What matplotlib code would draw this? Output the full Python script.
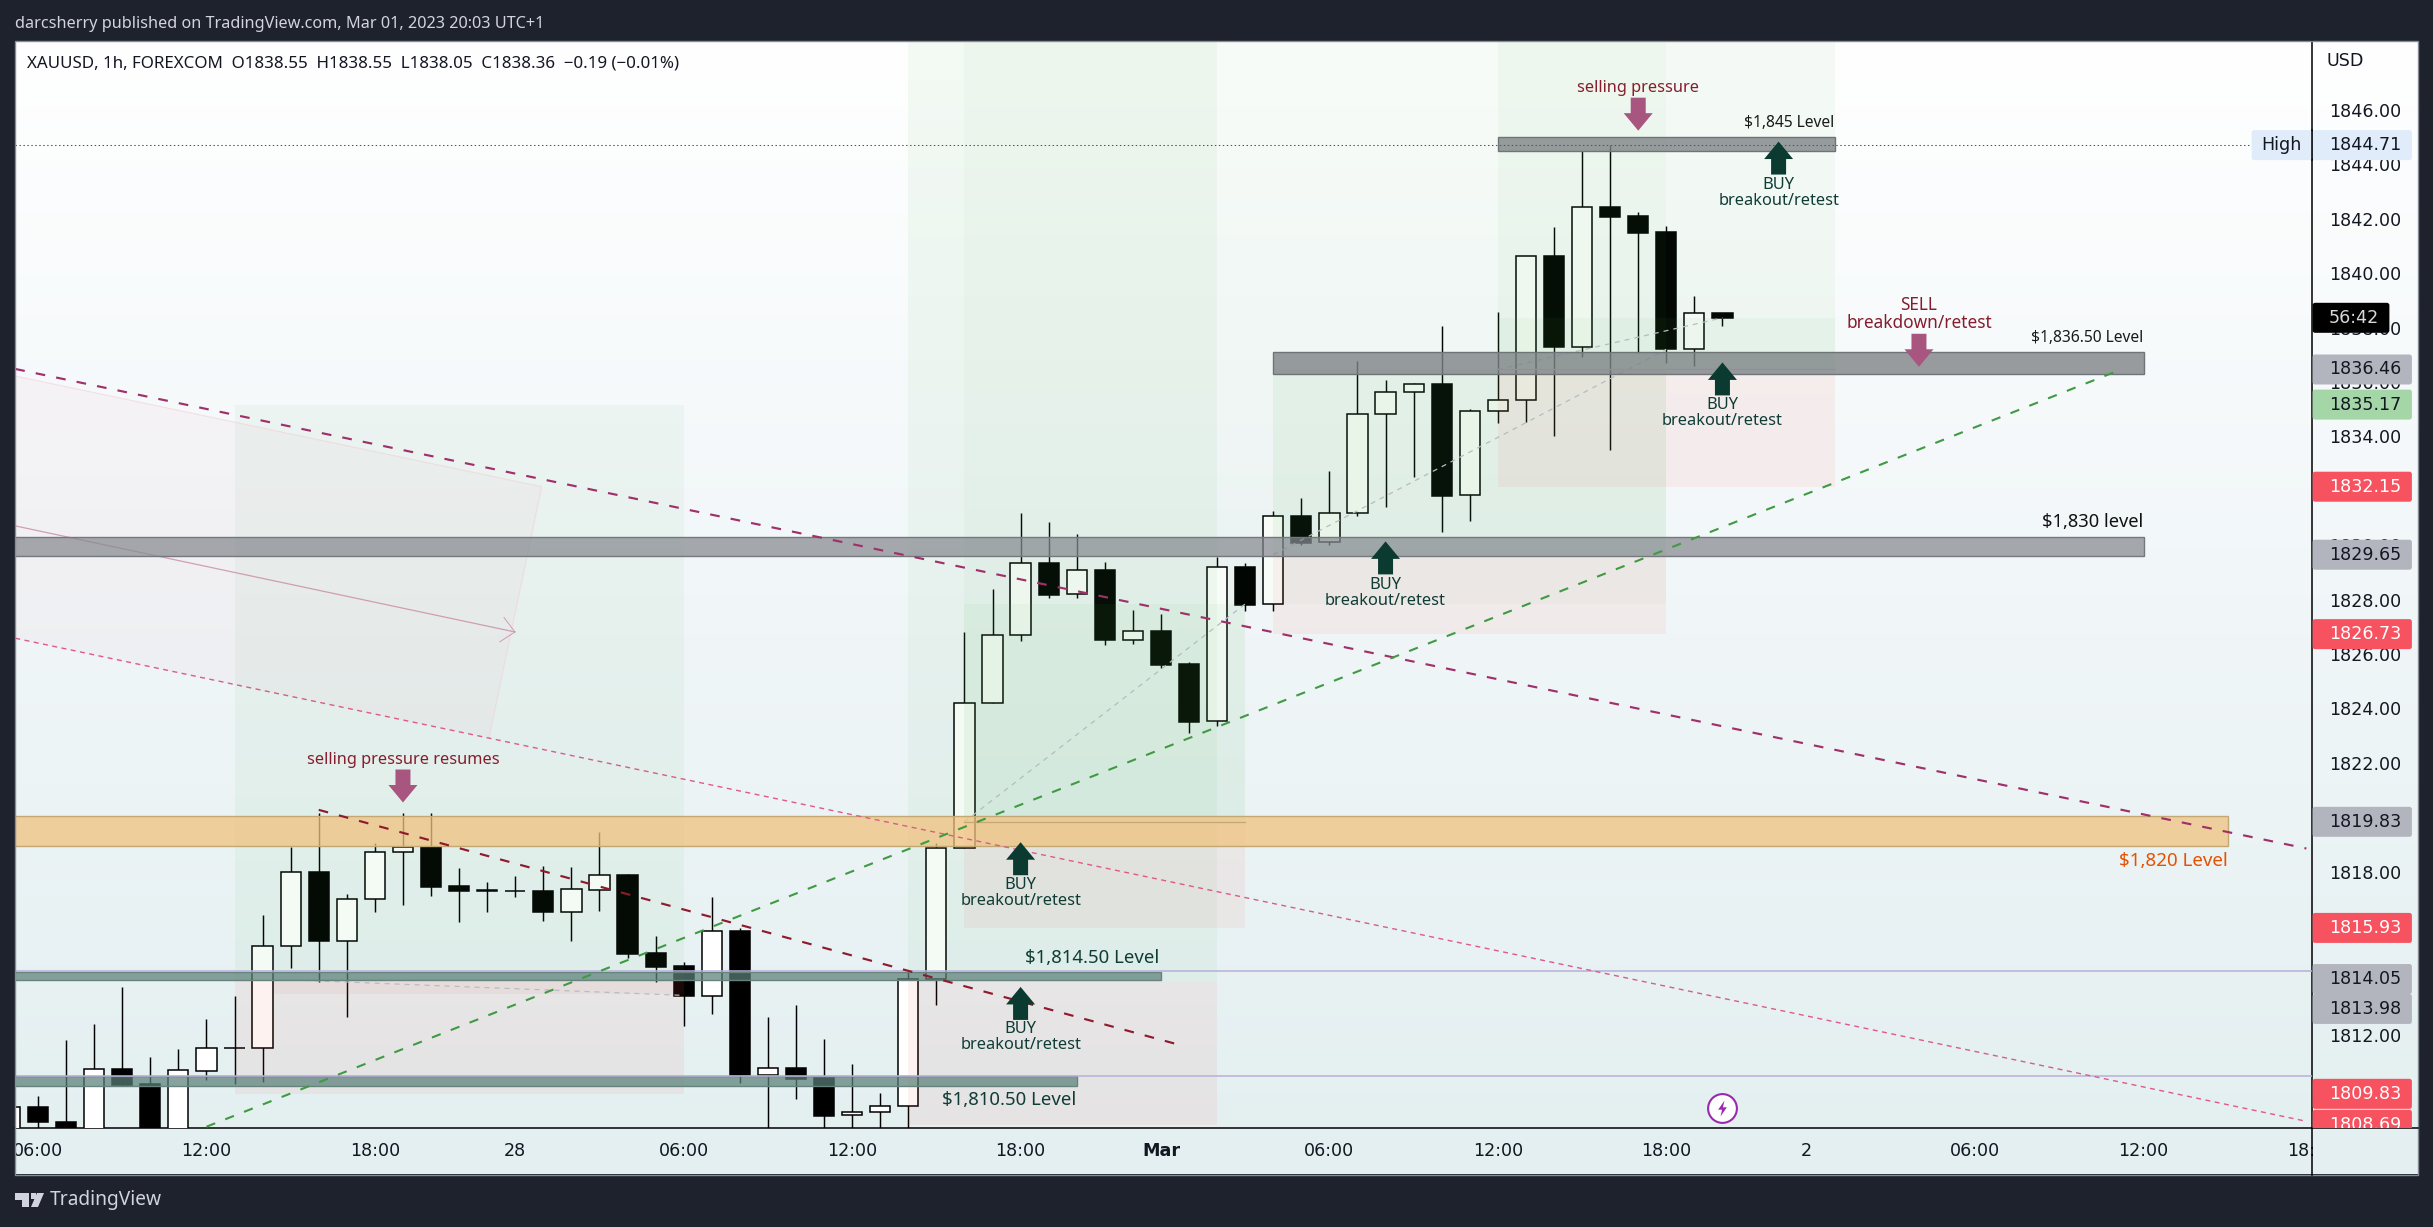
import numpy as np
import matplotlib
matplotlib.use("Agg")
import matplotlib.pyplot as plt
from matplotlib.patches import Rectangle, Polygon, FancyBboxPatch
from matplotlib.colors import LinearSegmentedColormap
from matplotlib.lines import Line2D
from matplotlib.transforms import Bbox, IdentityTransform

# ---------- data ----------
bar_index = list(range(-1, 61))
opens = [1808.2,1809.33,1808.80,1808.0,1810.74,1810.19,1808.0,1810.68,1811.51,1811.51,1815.25,1817.97,1815.46,1816.98,
         1818.71,1818.91,1817.48,1817.33,1817.28,1817.29,1816.52,1817.34,1817.87,1815.0,1814.54,1813.43,1815.82,1810.51,
         1810.78,1810.41,1809.04,1809.15,1809.37,1814.04,1818.86,1824.19,1826.69,1829.33,1828.19,1829.07,1826.53,1826.83,
         1825.63,1823.52,1829.19,1827.83,1831.07,1830.10,1831.17,1834.81,1835.62,1835.91,1831.83,1834.92,1835.33,1840.62,
         1837.30,1842.42,1842.09,1841.50,1837.22,1838.55]
highs = [1809.4,1809.75,1811.80,1812.40,1813.74,1811.18,1811.48,1812.58,1813.42,1816.40,1818.91,1820.16,1817.18,1819.06,
         1820.16,1820.16,1818.13,1817.60,1817.83,1818.21,1818.17,1819.45,1817.90,1815.64,1814.66,1817.06,1815.93,1812.67,
         1813.10,1811.85,1810.93,1809.86,1814.31,1819.04,1826.81,1828.39,1831.18,1830.85,1830.41,1829.38,1827.62,1827.47,
         1825.72,1829.55,1829.33,1831.25,1831.73,1832.73,1836.77,1836.07,1835.97,1838.06,1835.01,1838.57,1840.62,1841.70,
         1844.51,1844.71,1842.24,1841.72,1839.16,1838.55]
lows = [1807.9,1808.3,1807.8,1807.8,1810.12,1807.7,1807.8,1810.35,1810.18,1810.27,1814.46,1813.95,1812.67,1816.52,
        1816.78,1817.10,1816.13,1816.52,1817.08,1816.19,1815.46,1816.56,1814.83,1813.95,1812.32,1812.77,1810.22,1808.0,
        1809.65,1808.0,1808.0,1808.0,1808.0,1813.10,1818.86,1824.19,1826.49,1828.07,1828.07,1826.34,1826.38,1825.50,
        1823.11,1823.36,1827.59,1827.59,1830.02,1829.99,1831.09,1831.42,1832.52,1830.50,1830.90,1834.50,1834.54,1834.03,
        1836.93,1833.50,1837.08,1836.71,1836.60,1838.05]
closes = [1809.33,1808.80,1808.0,1810.73,1810.16,1807.9,1810.69,1811.51,1811.51,1815.25,1817.97,1815.46,1816.98,1818.71,
          1818.90,1817.45,1817.30,1817.27,1817.28,1816.52,1817.35,1817.86,1814.98,1814.5,1813.42,1815.81,1810.51,1810.77,
          1810.39,1809.03,1809.15,1809.37,1814.04,1818.86,1824.19,1826.69,1829.33,1828.18,1829.07,1826.53,1826.83,1825.61,
          1823.51,1829.19,1827.81,1831.06,1830.09,1831.17,1834.81,1835.62,1835.91,1831.82,1834.92,1835.33,1840.62,1837.30,
          1842.42,1842.08,1841.49,1837.22,1838.53,1838.36]

# price labels the reference shows at least partly (the rest sit fully under price tags)
price_ticks = [1812, 1818, 1822, 1824, 1826, 1828, 1830, 1834, 1836, 1838, 1840, 1842, 1844, 1846]
time_tick_bars = [0, 6, 12, 17, 23, 29, 35, 40, 46, 52, 58, 63, 69, 75, 81]
time_tick_labels = ["06:00", "12:00", "18:00", "28", "06:00", "12:00", "18:00", "Mar",
                    "06:00", "12:00", "18:00", "2", "06:00", "12:00", "18:00"]

tag_prices = [1844.71, 1836.46, 1835.17, 1832.15, 1829.65, 1826.73, 1819.83, 1815.93, 1814.05, 1813.98, 1809.83, 1808.69]
tag_kinds = ["high", "gray", "green", "red", "gray", "red", "gray", "red", "gray", "gray", "red", "red"]
last_close = 1838.36
countdown = "56:42"

# ---------- geometry ----------
W, H = 2433, 1227
DPI = 100
PX_L, PX_R, PX_T, PX_B = 15.3, 2312.0, 40.7, 1128.0
PANEL_R, PANEL_B = 2417.7, 1174.5
BAR_PX, UNIT_PX = 28.08, 27.2
XLIM = ((PX_L - 38) / BAR_PX, (PX_R - 38) / BAR_PX)
YLIM = (1846 - (PX_B - 110) / UNIT_PX, 1846 + (110 - PX_T) / UNIT_PX)
TEXT = "Noto Sans"
AXF = "DejaVu Sans"
DARK = "#1e222d"
TXT = "#131722"


def rect_fig(l, t, r, b):
    return [l / W, 1 - b / H, (r - l) / W, (b - t) / H]


fig = plt.figure(figsize=(W / DPI, H / DPI), dpi=DPI, facecolor=DARK)

bg = fig.add_axes(rect_fig(PX_L, PX_T, PANEL_R, PANEL_B), zorder=0)
cmap = LinearSegmentedColormap.from_list("bg", [(0, "#ffffff"), (0.45, "#f2f7f9"), (1, "#e3eff0")])
bg.imshow(np.linspace(0, 1, 256)[:, None], aspect="auto", cmap=cmap, vmin=0, vmax=1)
bg.axis("off")

ax = fig.add_axes(rect_fig(PX_L, PX_T, PX_R, PX_B), zorder=1)
ax.set_facecolor("none")
ax.set_xlim(*XLIM)
ax.set_ylim(*YLIM)
for s in ("top", "left"):
    ax.spines[s].set_visible(False)
for s in ("right", "bottom"):
    ax.spines[s].set_color("black")
    ax.spines[s].set_linewidth(1.1)
ax.yaxis.tick_right()
ax.set_yticks(price_ticks, [f"{v:.2f}" for v in price_ticks])
ax.tick_params(axis="y", length=0, pad=12, labelsize=12.6, labelcolor=TXT)
ax.set_xticks(time_tick_bars, time_tick_labels)
ax.tick_params(axis="x", length=0, pad=10, labelsize=12.6, labelcolor=TXT)
clip_x = Bbox([[PX_L, 0], [PX_R + 1.5, H]])
for lab in ax.get_xticklabels():
    lab.set_clip_on(True)
    lab.set_clip_box(clip_x)
    if lab.get_text() == "Mar":
        lab.set_fontweight("bold")

# ---------- candles ----------
x = np.array(bar_index)
o, h, l, c = map(np.array, (opens, highs, lows, closes))
ax.vlines(x, l, h, color="black", lw=1.05, zorder=3)
up = c >= o
ax.bar(x[up], (c - o)[up], bottom=o[up], width=0.72, facecolor="white", edgecolor="black", lw=1.1, zorder=3.2)
ax.bar(x[~up], (c - o)[~up], bottom=o[~up], width=0.72, facecolor="black", edgecolor="black", lw=1.1, zorder=3.2)

# ---------- position tools ----------
GREEN, PINK = "#4caf50", "#f44336"
TOP = YLIM[1]


def zone(i0, i1, p0, p1, col, a):
    ax.add_patch(Rectangle((i0, p0), i1 - i0, p1 - p0, facecolor=col, edgecolor="none", alpha=a, zorder=4))


zone(7, 23, 1814.05, 1835.17, GREEN, 0.06)
zone(7, 23, 1809.83, 1814.05, PINK, 0.065)
zone(8.4, 23, 1813.5, 1814.05, PINK, 0.05)
zone(31, 42, 1813.98, TOP, GREEN, 0.06)
zone(31, 42, 1808.69, 1813.98, PINK, 0.065)
zone(33, 58, 1827.84, TOP, GREEN, 0.035)
zone(33, 43, 1819.83, 1827.84, GREEN, 0.09)
zone(33, 43, 1815.93, 1819.83, PINK, 0.065)
zone(44, 58, 1829.65, 1836.46, GREEN, 0.08)
zone(44, 58, 1826.73, 1829.65, PINK, 0.065)
zone(52, 64, 1836.46, TOP, GREEN, 0.05)
zone(52, 64, 1836.46, 1838.36, GREEN, 0.05)
zone(52, 64, 1832.15, 1836.46, PINK, 0.065)

# pink channel fill on the left
ax.add_patch(Polygon([(-0.81, 1836.22), (17.94, 1832.15), (16.06, 1822.9), (-0.81, 1826.55)], closed=True,
                     facecolor="#e91e63", edgecolor="none", alpha=0.028, zorder=4))
ax.plot([-0.81, 17.94, 16.06], [1836.22, 1832.15, 1822.9], color="#f3cfdc", lw=0.8, alpha=0.6, zorder=4.1)
ax.plot([-0.81, 16.99], [1830.71, 1826.81], color="#c98aa6", lw=0.9, alpha=0.8, zorder=4.2)
ax.plot([16.6, 16.99, 16.45], [1827.34, 1826.81, 1826.45], color="#c98aa6", lw=0.7, alpha=0.8, zorder=4.2)

# gray dashed diagonals of the position tools
GD = dict(color="#b6bcc2", lw=0.9, dashes=(4, 4), zorder=4.3)
ax.plot([9.5, 23], [1814.0, 1813.45], **GD)
ax.plot([33, 43], [1819.83, 1827.84], **GD)
ax.plot([44, 58], [1829.65, 1837.2], **GD)
ax.plot([52, 60], [1836.46, 1838.36], **GD)
ax.plot([52, 64], [1836.46, 1836.46], color="#c9ced3", lw=1.0, zorder=4.3)

# ---------- bands ----------


def band(i0, i1, p0, p1, fill, edge, a=0.8):
    ax.add_patch(Rectangle((i0, p0), i1 - i0, p1 - p0, facecolor=fill, edgecolor="none", alpha=a, zorder=4.5))
    ax.add_patch(Rectangle((i0, p0), i1 - i0, p1 - p0, facecolor="none", edgecolor=edge, lw=1.0, zorder=4.6))


LEFT = XLIM[0] - 1
band(52, 64, 1844.5, 1845.0, "#7f8487", "#6f7478")
band(44, 75, 1836.31, 1837.12, "#7f8487", "#6f7478", 0.8)
band(LEFT, 75, 1829.6, 1830.29, "#868a90", "#75797e", 0.72)
band(LEFT, 78, 1818.93, 1820.03, "#f0c27e", "#c3a873", 0.75)
band(LEFT, 40, 1814.0, 1814.32, "#5b8078", "#66837d", 0.72)
band(LEFT, 37, 1810.13, 1810.48, "#5b8078", "#66837d", 0.72)
ax.axhline(1814.36, color="#b9afdc", lw=1.1, zorder=4.7)
ax.axhline(1810.49, color="#b9afdc", lw=1.1, zorder=4.7)
ax.plot([XLIM[0], (2251 - 38) / BAR_PX], [1844.71, 1844.71], color="#4f555c", lw=0.75, dashes=(1.4, 2.4), zorder=4.8)
ax.plot([33, 43], [1819.83, 1819.83], color="#c3a873", lw=0.9, zorder=4.7)

# ---------- trend lines ----------
ax.plot([-0.81, 80.8], [1836.48, 1818.85], color="#a0306a", lw=1.55, dashes=(4.5, 5.2), zorder=5)
ax.plot([10, 40.55], [1820.27, 1811.66], color="#8f1a2e", lw=1.55, dashes=(4.5, 5.2), zorder=5)
ax.plot([-0.81, 80.8], [1826.58, 1808.82], color="#dd5a8c", lw=1.0, dashes=(3.6, 3.2), zorder=5)
ax.plot([6, 74.2], [1808.62, 1836.46], color="#3f9a42", lw=1.5, dashes=(4.5, 5.2), zorder=5)

# ---------- arrows and notes ----------
ARW_G, ARW_P = "#0b3a30", "#a8567f"
TXT_G, TXT_R = "#0f3d35", "#861d2e"


def arrow(i, tip, down, col):
    s = 1 if down else -1
    dx, dy = 1 / BAR_PX, 1 / UNIT_PX
    pts = [(i, tip), (i - 14.5 * dx, tip + s * 17.5 * dy), (i - 7.5 * dx, tip + s * 17.5 * dy),
           (i - 7.5 * dx, tip + s * 33 * dy), (i + 7.5 * dx, tip + s * 33 * dy),
           (i + 7.5 * dx, tip + s * 17.5 * dy), (i + 14.5 * dx, tip + s * 17.5 * dy)]
    ax.add_patch(Polygon(pts, closed=True, facecolor=col, edgecolor="none", zorder=6))


def note(i, p, s, col=TXT_G, size=11.8, ha="center", **kw):
    ax.text(i, p, s, color=col, fontsize=size, ha=ha, va="center", family=TEXT, zorder=7, **kw)


def buy(i, tip, p1, p2):
    arrow(i, tip, False, ARW_G)
    note(i, p1, "BUY")
    note(i, p2, "breakout/retest")


buy(35, 1819.08, 1817.51, 1816.92)
buy(48, 1830.14, 1828.54, 1827.95)
buy(35, 1813.76, 1812.22, 1811.62)
buy(62, 1844.84, 1843.24, 1842.65)
buy(60, 1836.72, 1835.16, 1834.57)

arrow(13, 1820.54, True, ARW_P)
note(13, 1822.12, "selling pressure resumes", TXT_R, 11.75)
arrow(57, 1845.24, True, ARW_P)
note(57, 1846.82, "selling pressure", TXT_R, 11.75)
arrow(67, 1836.56, True, ARW_P)
note(67, 1838.83, "SELL", TXT_R, 12.4)
note(67, 1838.16, "breakdown/retest", TXT_R, 12.4)

note(64, 1845.51, "$1,845 Level", "#1a1a1a", 11.2, ha="right")
note(75, 1837.6, "$1,836.50 Level", "#1a1a1a", 11.2, ha="right")
note(75, 1830.87, "$1,830 level", "#111111", 13.2, ha="right")
note(78, 1818.38, "$1,820 Level", "#e65100", 13.5, ha="right")
note(37.55, 1814.84, "$1,814.50 Level", TXT_G, 13.4)
note(34.6, 1809.6, "$1,810.50 Level", TXT_G, 13.4)

# lightning icon
BOLT = [(0.25, 1), (-0.55, -0.15), (-0.05, -0.15), (-0.25, -1), (0.55, 0.15), (0.05, 0.15)]
ax.scatter([60], [1809.31], s=430, facecolor="white", edgecolor="#9c27b0", linewidth=1.5, zorder=6, clip_on=False)
ax.scatter([60], [1809.31], s=130, marker=BOLT, color="#9c27b0", linewidth=0, zorder=6.1)

# ---------- price tags ----------
TAG_STYLE = {"high": ("#e1ecfb", TXT), "gray": ("#b2b5be", TXT), "green": ("#a5d6a7", TXT), "red": ("#f7525f", "white")}
TAG_SHIFT = {1813.98: 28}
clip_tags = Bbox([[PX_R - 1, H - PX_B], [W, H]])


def y_px(p):
    return ax.transData.transform((0, p))[1]


def tag(label, ycentre, face, col, right=2412.5, left=PX_R):
    hh = 13.6
    pat = FancyBboxPatch((left + 2, ycentre - hh), right - left - 4, 2 * hh, boxstyle="round,pad=1.4,rounding_size=2.5",
                         facecolor=face, edgecolor="none", transform=IdentityTransform(), zorder=5)
    fig.add_artist(pat)
    pat.set_clip_box(clip_tags)
    t = fig.text(2329 / W, ycentre / H, label, color=col, fontsize=12.6, family=AXF, ha="left", va="center", zorder=6)
    t.set_clip_on(True)
    t.set_clip_box(clip_tags)


for p, k in zip(tag_prices, tag_kinds):
    f, tc = TAG_STYLE[k]
    tag(f"{p:.2f}", y_px(p) - TAG_SHIFT.get(p, 0), f, tc)

tag(countdown, y_px(last_close), "black", "#d8d8d8", right=2390)

# "High" label
yh = y_px(tag_prices[0])
fig.add_artist(FancyBboxPatch((2253, yh - 13.6), 58, 27.2, boxstyle="round,pad=1.4,rounding_size=2.5",
                              facecolor="#e1ecfb", edgecolor="none", transform=IdentityTransform(), zorder=5))
fig.text(2281 / W, yh / H, "High", color=TXT, fontsize=12.6, family=AXF, ha="center", va="center", zorder=6)
fig.add_artist(Line2D([PX_R / W, PX_R / W], [(yh + 15) / H, (yh - 15) / H], color="black", lw=1.1, zorder=5.5))

# ---------- chrome ----------
fig.add_artist(Rectangle((PX_L / W, 1 - PANEL_B / H), (PANEL_R - PX_L) / W, (PANEL_B - PX_T) / H,
                         facecolor="none", edgecolor="#868b95", lw=1.0, zorder=4))
fig.add_artist(Line2D([PX_R / W, PX_R / W], [1 - PX_B / H, 1 - PANEL_B / H], color="black", lw=1.1, zorder=4.5))
fig.add_artist(Line2D([PX_R / W, PANEL_R / W], [1 - PX_B / H, 1 - PX_B / H], color="black", lw=1.1, zorder=4.5))
fig.text(2327 / W, 1 - 60.5 / H, "USD", color=TXT, fontsize=12.6, family=AXF, ha="left", va="center", zorder=6)
fig.text(15 / W, 1 - 24 / H, "darcsherry published on TradingView.com, Mar 01, 2023 20:03 UTC+1",
         color="#d1d4dc", fontsize=11.7, family=TEXT, ha="left", va="center")
fig.text(27 / W, 1 - 63 / H, "XAUUSD, 1h, FOREXCOM  O1838.55  H1838.55  L1838.05  C1838.36  \u22120.19 (\u22120.01%)",
         color=TXT, fontsize=12.2, family=TEXT, ha="left", va="center", zorder=6)
fig.text(50 / W, 1 - 1200 / H, "TradingView", color="#d1d4dc", fontsize=13.8, family=TEXT, ha="left", va="center")


def fp(pts):
    return [(a / W, 1 - b / H) for a, b in pts]


LOGO = "#d1d4dc"
fig.add_artist(Polygon(fp([(15, 1193), (29, 1193), (29, 1207), (22, 1207), (22, 1200), (15, 1200)]), closed=True, facecolor=LOGO, edgecolor="none"))
fig.add_artist(Polygon(fp([(37, 1193), (44, 1193), (38, 1207), (31, 1207)]), closed=True, facecolor=LOGO, edgecolor="none"))
fig.add_artist(Polygon(fp([(30.5, 1193), (35.5, 1193), (35.5, 1199), (30.5, 1199)]), closed=True, facecolor=LOGO, edgecolor="none"))

fig.savefig("out.png", dpi=DPI, facecolor=DARK)
